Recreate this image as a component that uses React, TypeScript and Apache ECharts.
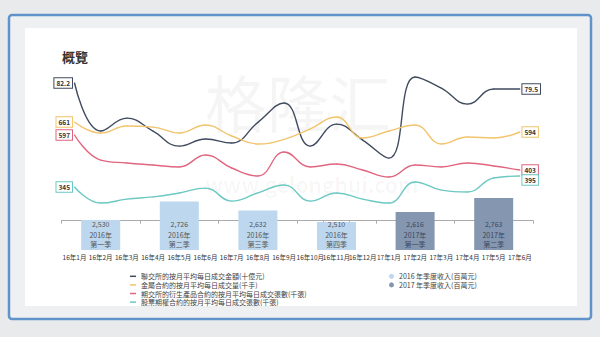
import React, { useEffect, useRef } from "react";
import * as echarts from "echarts";

const months = [
  "16年1月", "16年2月", "16年3月", "16年4月", "16年5月", "16年6月",
  "16年7月", "16年8月", "16年9月", "16年10月", "16年11月", "16年12月",
  "17年1月", "17年2月", "17年3月", "17年4月", "17年5月", "17年6月",
];

// 聯交所的按月平均每日成交金額(十億元)
const hkexTurnover = [82.2, 60.6, 66.4, 60.5, 53.8, 57.0, 55.2, 64.5, 73.2, 53.8, 63.7, 56.5, 48.4, 84.9, 79.9, 72.7, 79.5, 79.5];
// 金屬合約的按月平均每日成交量(千手)
const metalVolume = [661, 587, 634, 627, 587, 641, 567, 514, 545, 615, 695, 554, 601, 641, 514, 560, 554, 594];
// 期交所的衍生產品合約的按月平均每日成交張數(千張)
const hkfeContracts = [597, 458, 442, 431, 420, 486, 414, 370, 503, 420, 436, 403, 364, 431, 420, 442, 425, 403];
// 股票期權合約的按月平均每日成交張數(千張)
const stockOptions = [345, 272, 290, 300, 318, 340, 281, 318, 354, 281, 318, 290, 272, 368, 331, 322, 386, 395];

const rev2016 = [2530, 2726, 2632, 2510];
const rev2016Months = ["16年2月", "16年5月", "16年8月", "16年11月"];
const rev2017 = [2616, 2763];
const rev2017Months = ["17年2月", "17年5月"];
const quarterNames = ["第一季", "第二季", "第三季", "第四季"];

const lineNames = [
  "聯交所的按月平均每日成交金額(十億元)",
  "金屬合約的按月平均每日成交量(千手)",
  "期交所的衍生產品合約的按月平均每日成交張數(千張)",
  "股票期權合約的按月平均每日成交張數(千張)",
];
const barNames = ["2016 年季度收入(百萬元)", "2017 年季度收入(百萬元)"];

const FONT = "'Noto Sans CJK TC', 'Noto Sans', sans-serif";

function fmt(v: number) {
  return v.toLocaleString("en-US");
}

export default function App() {
  const ref = useRef<HTMLDivElement>(null);
  useEffect(() => {
    if (!ref.current) return;
    const chart = echarts.init(ref.current, undefined, { renderer: "svg" });

    const barData = (vals: number[], ms: string[], year: string) =>
      months.map((m) => {
        const i = ms.indexOf(m);
        return i >= 0 ? { value: vals[i], year, q: quarterNames[i] } : "-";
      });

    const endLabel = (color: string, pos: "left" | "right", offset: number[] = [0, 0]) => ({
      show: true,
      position: pos,
      distance: 2,
      offset,
      formatter: "{c}",
      fontSize: 6.5,
      fontWeight: "bold",
      color: "#333",
      backgroundColor: "#fff",
      borderColor: color,
      borderWidth: 1,
      padding: [2, 2, 1, 2],
    });

    const lineSeries = (
      name: string,
      data: number[],
      color: string,
      yAxisIndex: number,
      lastOffset: number[] = [0, 0]
    ) => ({
      name,
      type: "line",
      yAxisIndex,
      smooth: 0.45,
      symbol: "circle",
      symbolSize: 1,
      showSymbol: true,
      lineStyle: { color, width: 1.4 },
      itemStyle: { color },
      label: { show: false },
      z: 3,
      data: data.map((v, i) => {
        if (i === 0) return { value: v, label: endLabel(color, "left") };
        if (i === data.length - 1) return { value: v, label: endLabel(color, "right", lastOffset) };
        return v;
      }),
    });

    const barLabel = (txt: string) => ({
      show: true,
      position: "insideBottom",
      distance: 1,
      formatter: (p: any) => `{v|${fmt(p.value)}}\n{t|${p.data.year}}\n{t|${p.data.q}}`,
      rich: {
        v: { fontSize: 7, color: txt, lineHeight: 11.5, fontFamily: FONT },
        t: { fontSize: 7, color: txt, lineHeight: 9.5, fontFamily: FONT },
      },
    });

    chart.setOption({
      animation: false,
      textStyle: { fontFamily: FONT },
      title: {
        text: "概覽",
        left: 57,
        top: 45,
        textStyle: { fontSize: 13, fontWeight: "bold", color: "#333", fontFamily: FONT },
      },
      graphic: [
        { type: "rect", z: -20, shape: { x: 0, y: 0, width: 600, height: 337 }, style: { fill: "#e8eaec" } },
        {
          type: "rect", z: -19,
          shape: { x: 9, y: 15, width: 582, height: 304, r: 3 },
          style: { fill: "#eff0f2", stroke: "#5f93c9", lineWidth: 2.5 },
        },
        { type: "rect", z: -18, shape: { x: 25, y: 28, width: 552, height: 278 }, style: { fill: "#ffffff" } },
        {
          type: "text", z: -10, x: 205, y: 70,
          style: { text: "格隆汇", fontSize: 62, fontFamily: FONT, fill: "#000", opacity: 0.04 },
        },
        {
          type: "text", z: -10, x: 205, y: 173,
          style: { text: "www.gelonghui.com", fontSize: 21, fontWeight: "bold", fontFamily: FONT, fill: "#000", opacity: 0.035 },
        },
      ],
      legend: [
        {
          data: lineNames,
          orient: "vertical",
          left: 125,
          top: 267,
          itemWidth: 6,
          itemHeight: 1.5,
          itemGap: 0,
          icon: "rect",
          textStyle: { fontSize: 7, color: "#444", lineHeight: 8.6, fontFamily: FONT },
        },
        {
          data: barNames,
          orient: "vertical",
          left: 384,
          top: 267,
          itemWidth: 5,
          itemHeight: 5,
          itemGap: 0,
          icon: "circle",
          textStyle: { fontSize: 7, color: "#444", lineHeight: 8.6, fontFamily: FONT },
        },
      ],
      grid: { left: 61.4, right: 67, top: 60, bottom: 87 },
      xAxis: {
        type: "category",
        data: months,
        axisLine: { lineStyle: { color: "#aaa", width: 1 } },
        axisTick: { show: true, length: 3, lineStyle: { color: "#aaa" } },
        axisLabel: { interval: 0, fontSize: 6.5, color: "#333", margin: 4, fontFamily: FONT },
      },
      yAxis: [
        { type: "value", min: 2215, max: 4215, show: false },
        { type: "value", min: 7.05, max: 92.55, show: false },
        { type: "value", min: -196.6, max: 1076.4, show: false },
        { type: "value", min: -40.4, max: 1012.7, show: false },
        { type: "value", min: 58.7, max: 922.2, show: false },
      ],
      series: [
        {
          name: barNames[0],
          type: "bar",
          yAxisIndex: 0,
          barWidth: 39,
          barGap: "-100%",
          itemStyle: { color: "#bdd7ee" },
          label: barLabel("#555"),
          z: 1,
          data: barData(rev2016, rev2016Months, "2016年"),
        },
        {
          name: barNames[1],
          type: "bar",
          yAxisIndex: 0,
          barWidth: 39,
          barGap: "-100%",
          itemStyle: { color: "#8597b0" },
          label: barLabel("#3a4760"),
          z: 1,
          data: barData(rev2017, rev2017Months, "2017年"),
        },
        lineSeries(lineNames[0], hkexTurnover, "#404b5f", 1),
        lineSeries(lineNames[1], metalVolume, "#f1c46d", 2),
        lineSeries(lineNames[2], hkfeContracts, "#e0657f", 3),
        lineSeries(lineNames[3], stockOptions, "#6cc8c2", 4, [0, 4]),
      ],
    });
    return () => chart.dispose();
  }, []);
  return (
    <div
      ref={ref}
      style={{ position: "absolute", left: 0, top: 0, width: 600, height: 337 }}
    />
  );
}
